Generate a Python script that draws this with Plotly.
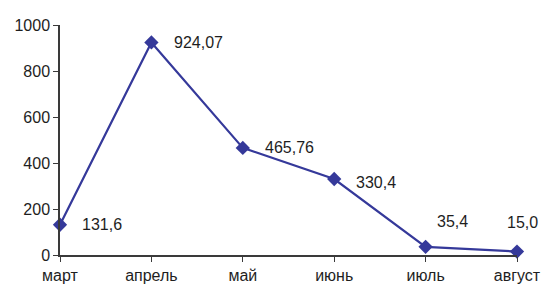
import plotly.graph_objects as go

months = ["март", "апрель", "май", "июнь", "июль", "август"]
values = [131.6, 924.07, 465.76, 330.4, 35.4, 15.0]
labels = ["131,6", "924,07", "465,76", "330,4", "35,4", "15,0"]
y_ticks = [0, 200, 400, 600, 800, 1000]

# label offsets (style only)
offsets = [(20, 0, "left", "middle"), (21, 0, "left", "middle"), (20, 0, "left", "middle"),
           (20, -3, "left", "middle"), (9, 25, "left", "middle"), (5, 29, "center", "middle")]

color = "#35399a"
fnt = "Liberation Sans, Arial"
fig = go.Figure()
fig.add_trace(go.Scatter(
    x=months, y=values, mode="lines+markers",
    line=dict(color=color, width=2.2),
    marker=dict(symbol="diamond", size=11, color=color),
    cliponaxis=False, showlegend=False, hoverinfo="skip",
))
for m, v, t, (dx, dy, xa, ya) in zip(months, values, labels, offsets):
    fig.add_annotation(x=m, y=v, text=t, showarrow=False, xshift=dx, yshift=dy,
                       xanchor=xa, yanchor=ya,
                       font=dict(family=fnt, size=16, color="#1e1e1e"))

fig.update_layout(
    width=543, height=284,
    margin=dict(l=60, r=26, t=25, b=29),
    paper_bgcolor="white", plot_bgcolor="white",
    font=dict(family=fnt, size=16, color="#1e1e1e"),
    xaxis=dict(type="category", range=[0, 5], showgrid=False, showline=True,
               linecolor="#3a3a3a", linewidth=1.5, ticks="outside", ticklen=5,
               tickcolor="#3a3a3a", zeroline=False, automargin=False),
    yaxis=dict(range=[0, 1000], tickvals=y_ticks, showgrid=False, showline=True,
               linecolor="#3a3a3a", linewidth=1.5, ticks="outside", ticklen=5,
               tickcolor="#3a3a3a", zeroline=False, automargin=False),
)
fig.write_html("out.html", config={"displayModeBar": False},
               post_script="document.body.style.margin='0';document.body.style.overflow='hidden';")
